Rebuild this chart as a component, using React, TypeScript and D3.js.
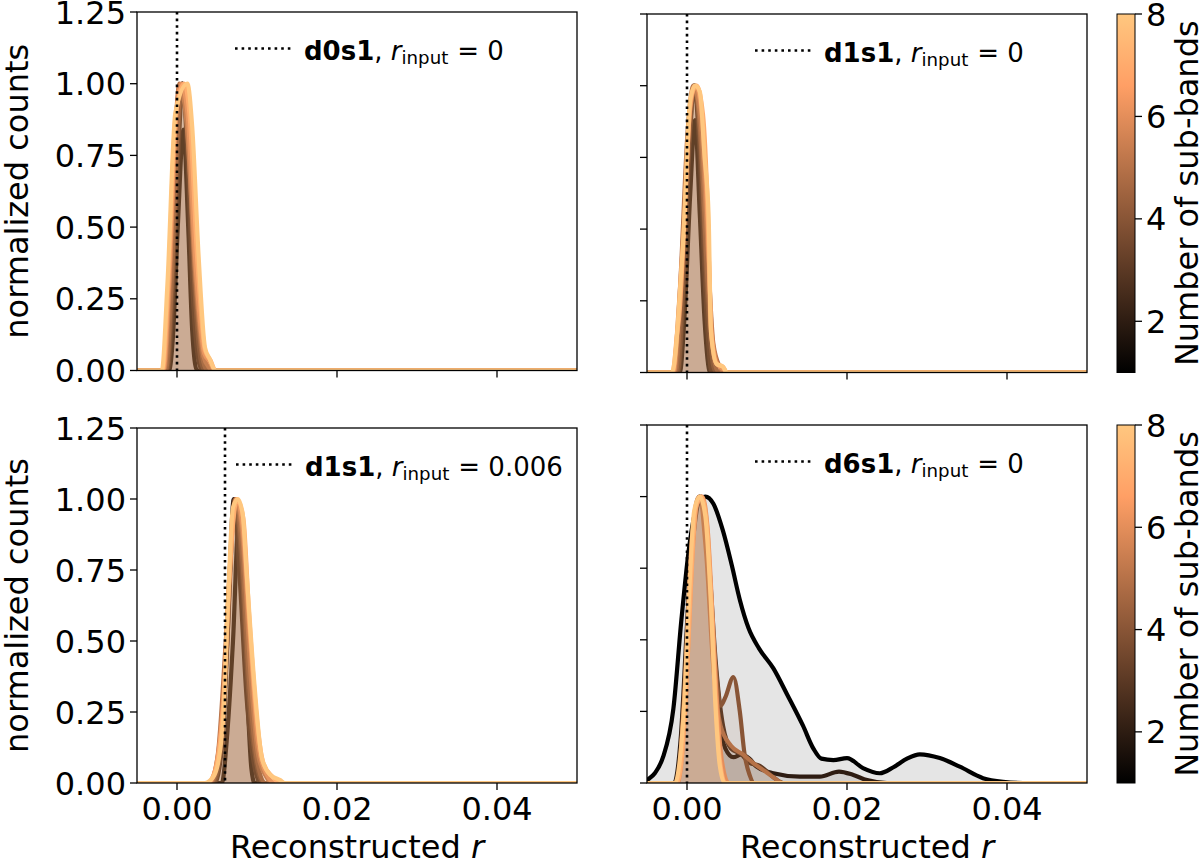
import React from 'react';
import * as d3 from 'd3';

type Pt = [number, number];

// ---------- data ----------
const subBands = [1, 2, 3, 4, 5, 6, 7, 8];
const xTicks = [0, 0.02, 0.04];
const yTicks = [0, 0.25, 0.5, 0.75, 1.0, 1.25];
const cbTicks = [2, 4, 6, 8];
const panelNames = ['d0s1', 'd1s1', 'd1s1', 'd6s1'];
const rInputLabels = ['0', '0', '0.006', '0'];
const rInputValues = [0, 0, 0.006, 0];

// top-left: d0s1, r_input = 0 (one curve per number of sub-bands, 1..8)
const d0s1Curves: Pt[][] = [
  [[-0.005, 0], [-0.001, 0], [-0.0005, 0.12], [0.0001, 0.5], [0.0008, 0.84], [0.0014, 0.5], [0.0019, 0.14], [0.0025, 0], [0.05, 0]],
  [[-0.005, 0], [-0.0012, 0], [-0.0005, 0.28], [0.0002, 0.78], [0.0007, 1.0], [0.0013, 0.75], [0.002, 0.25], [0.0028, 0.02], [0.0032, 0], [0.05, 0]],
  [[-0.005, 0], [-0.0013, 0], [-0.0006, 0.3], [0.0001, 0.8], [0.0007, 1.0], [0.0014, 0.78], [0.0022, 0.28], [0.003, 0.03], [0.0035, 0], [0.05, 0]],
  [[-0.005, 0], [-0.0014, 0], [-0.0007, 0.3], [0.0, 0.8], [0.0006, 1.0], [0.0014, 0.8], [0.0023, 0.3], [0.0032, 0.04], [0.0038, 0], [0.05, 0]],
  [[-0.005, 0], [-0.0016, 0], [-0.0009, 0.3], [-0.0002, 0.84], [0.0003, 1.0], [0.0012, 0.86], [0.0023, 0.33], [0.0033, 0.05], [0.004, 0.01], [0.0045, 0], [0.05, 0]],
  [[-0.005, 0], [-0.0017, 0], [-0.001, 0.3], [-0.0002, 0.85], [0.0005, 1.0], [0.0013, 0.9], [0.0023, 0.38], [0.0034, 0.06], [0.0041, 0.03], [0.0047, 0], [0.05, 0]],
  [[-0.005, 0], [-0.0018, 0], [-0.0011, 0.3], [-0.0002, 0.88], [0.0009, 1.0], [0.0016, 0.88], [0.0025, 0.4], [0.0035, 0.07], [0.0042, 0.035], [0.0048, 0], [0.05, 0]],
  [[-0.005, 0], [-0.0019, 0], [-0.0012, 0.3], [-0.0002, 0.9], [0.0013, 1.0], [0.0019, 0.85], [0.0027, 0.4], [0.0035, 0.08], [0.0041, 0.04], [0.0048, 0], [0.05, 0]],
];

// top-right: d1s1, r_input = 0
const d1s1Curves: Pt[][] = [
  [[-0.005, 0], [-0.0009, 0], [-0.0003, 0.2], [0.0004, 0.62], [0.001, 0.88], [0.0016, 0.55], [0.0022, 0.18], [0.0029, 0], [0.05, 0]],
  [[-0.005, 0], [-0.0011, 0], [-0.0004, 0.3], [0.0003, 0.78], [0.0009, 1.0], [0.0016, 0.75], [0.0024, 0.22], [0.0031, 0], [0.05, 0]],
  [[-0.005, 0], [-0.0012, 0], [-0.0005, 0.3], [0.0003, 0.82], [0.001, 1.0], [0.0017, 0.78], [0.0025, 0.28], [0.0033, 0.02], [0.0037, 0], [0.05, 0]],
  [[-0.005, 0], [-0.0014, 0], [-0.0007, 0.3], [0.0002, 0.85], [0.0009, 1.0], [0.0017, 0.82], [0.0025, 0.35], [0.0034, 0.04], [0.004, 0], [0.05, 0]],
  [[-0.005, 0], [-0.0016, 0], [-0.0009, 0.28], [0.0001, 0.85], [0.0008, 1.0], [0.0017, 0.88], [0.0026, 0.42], [0.0033, 0.1], [0.0041, 0.02], [0.0046, 0], [0.05, 0]],
  [[-0.005, 0], [-0.0017, 0], [-0.0011, 0.2], [-0.0004, 0.5], [0.0004, 0.92], [0.0011, 1.0], [0.0019, 0.88], [0.0026, 0.5], [0.0031, 0.14], [0.0038, 0.03], [0.0046, 0.01], [0.005, 0], [0.05, 0]],
  [[-0.005, 0], [-0.0018, 0], [-0.0013, 0.12], [-0.0009, 0.22], [-0.0004, 0.48], [0.0005, 0.96], [0.0012, 1.0], [0.002, 0.9], [0.0026, 0.56], [0.003, 0.15], [0.0037, 0.03], [0.0045, 0.02], [0.005, 0], [0.05, 0]],
  [[-0.005, 0], [-0.0019, 0], [-0.0014, 0.08], [-0.0011, 0.19], [-0.0005, 0.45], [0.0004, 0.95], [0.001, 1.0], [0.0016, 0.98], [0.0022, 0.75], [0.0027, 0.55], [0.003, 0.14], [0.0037, 0.03], [0.0045, 0.02], [0.005, 0], [0.05, 0]],
];

// bottom-left: d1s1, r_input = 0.006
const d1s1r006Curves: Pt[][] = [
  [[-0.005, 0], [0.0056, 0], [0.0063, 0.18], [0.007, 0.5], [0.0077, 0.91], [0.0083, 0.62], [0.0088, 0.3], [0.0093, 0.05], [0.0097, 0], [0.05, 0]],
  [[-0.005, 0], [0.0047, 0], [0.0056, 0.12], [0.0063, 0.5], [0.0071, 1.0], [0.0078, 0.74], [0.0087, 0.3], [0.0096, 0.07], [0.0104, 0], [0.05, 0]],
  [[-0.005, 0], [0.0045, 0], [0.0055, 0.12], [0.0063, 0.5], [0.0072, 1.0], [0.008, 0.8], [0.0089, 0.33], [0.0099, 0.07], [0.0108, 0], [0.05, 0]],
  [[-0.005, 0], [0.0043, 0], [0.0053, 0.12], [0.0062, 0.5], [0.0073, 1.0], [0.0081, 0.82], [0.009, 0.36], [0.01, 0.08], [0.011, 0], [0.05, 0]],
  [[-0.005, 0], [0.0041, 0], [0.0051, 0.1], [0.0061, 0.5], [0.0073, 1.0], [0.0082, 0.86], [0.0092, 0.38], [0.0102, 0.09], [0.0112, 0.02], [0.0118, 0], [0.05, 0]],
  [[-0.005, 0], [0.0039, 0], [0.0048, 0.05], [0.0059, 0.35], [0.0066, 0.75], [0.0074, 1.0], [0.0082, 0.9], [0.0091, 0.52], [0.0101, 0.15], [0.0112, 0.03], [0.0122, 0], [0.05, 0]],
  [[-0.005, 0], [0.0037, 0], [0.0046, 0.03], [0.0058, 0.28], [0.0065, 0.7], [0.0075, 1.0], [0.0083, 0.93], [0.009, 0.6], [0.0099, 0.25], [0.0108, 0.07], [0.012, 0.02], [0.0128, 0], [0.05, 0]],
  [[-0.005, 0], [0.0035, 0], [0.0045, 0.02], [0.0052, 0.08], [0.0058, 0.24], [0.0064, 0.66], [0.007, 0.97], [0.0076, 1.0], [0.0082, 0.95], [0.0087, 0.74], [0.0097, 0.34], [0.0106, 0.09], [0.0116, 0.03], [0.0129, 0.01], [0.0135, 0], [0.05, 0]],
];

// bottom-right: d6s1, r_input = 0
const d6s1Curves: Pt[][] = [
  [[-0.0055, 0], [-0.005, 0.01], [-0.004, 0.035], [-0.003, 0.09], [-0.0017, 0.26], [-0.0007, 0.57], [0.0003, 0.83], [0.0013, 0.97], [0.0023, 1.0], [0.0033, 0.975], [0.0045, 0.88], [0.0056, 0.76], [0.0066, 0.64], [0.0077, 0.54], [0.009, 0.47], [0.0108, 0.4], [0.0125, 0.31], [0.0145, 0.2], [0.0158, 0.12], [0.0168, 0.085], [0.0183, 0.08], [0.02, 0.087], [0.022, 0.052], [0.0241, 0.034], [0.0258, 0.055], [0.0275, 0.085], [0.0291, 0.1], [0.0316, 0.087], [0.0341, 0.057], [0.037, 0.017], [0.0395, 0.004], [0.042, 0], [0.05, 0]],
  [[-0.005, 0], [-0.0016, 0], [-0.0008, 0.15], [0.0, 0.55], [0.0008, 0.9], [0.0016, 1.0], [0.0024, 0.85], [0.0032, 0.5], [0.004, 0.22], [0.0048, 0.12], [0.0058, 0.09], [0.0068, 0.1], [0.0078, 0.085], [0.0087, 0.057], [0.0108, 0.034], [0.0141, 0.022], [0.0166, 0.022], [0.019, 0.04], [0.0208, 0.028], [0.0225, 0.01], [0.025, 0], [0.05, 0]],
  [[-0.005, 0], [-0.0012, 0], [-0.0004, 0.25], [0.0006, 0.8], [0.0018, 1.0], [0.0028, 0.75], [0.0036, 0.42], [0.0045, 0.2], [0.0055, 0.12], [0.0068, 0.1], [0.0078, 0.07], [0.0091, 0.06], [0.0108, 0.02], [0.012, 0], [0.05, 0]],
  [[-0.005, 0], [-0.0012, 0], [-0.0004, 0.25], [0.0006, 0.82], [0.0016, 1.0], [0.0026, 0.78], [0.0036, 0.4], [0.0042, 0.27], [0.0048, 0.3], [0.0058, 0.37], [0.0066, 0.25], [0.0072, 0.1], [0.0078, 0.03], [0.0084, 0], [0.05, 0]],
  [[-0.005, 0], [-0.0012, 0], [-0.0004, 0.28], [0.0006, 0.85], [0.0015, 1.0], [0.0024, 0.8], [0.0033, 0.4], [0.0042, 0.2], [0.0055, 0.13], [0.007, 0.1], [0.0085, 0.065], [0.0098, 0.04], [0.0108, 0.02], [0.012, 0], [0.05, 0]],
  [[-0.005, 0], [-0.0012, 0], [-0.0006, 0.1], [0.0, 0.38], [0.0006, 0.75], [0.0012, 0.97], [0.0019, 1.0], [0.0026, 0.88], [0.0032, 0.58], [0.0038, 0.26], [0.0044, 0.07], [0.0052, 0], [0.05, 0]],
  [[-0.005, 0], [-0.0013, 0], [-0.0007, 0.08], [-0.0001, 0.32], [0.0005, 0.7], [0.0011, 0.96], [0.0018, 1.0], [0.0025, 0.9], [0.0031, 0.6], [0.0036, 0.28], [0.0042, 0.06], [0.0048, 0], [0.05, 0]],
  [[-0.005, 0], [-0.0015, 0], [-0.0009, 0.08], [-0.0003, 0.3], [0.0003, 0.68], [0.0009, 0.95], [0.0016, 1.0], [0.0023, 0.93], [0.003, 0.62], [0.0035, 0.3], [0.0041, 0.06], [0.0047, 0], [0.05, 0]],
];

const panelCurves = [d0s1Curves, d1s1Curves, d1s1r006Curves, d6s1Curves];

// ---------- layout ----------
const layouts = [
  { x0: 137, x1: 577, y0: 12, y1: 370.5, xLabels: false, yLabels: true, legendDx: 98 },
  { x0: 647, x1: 1087, y0: 14, y1: 372.5, xLabels: false, yLabels: false, legendDx: 108 },
  { x0: 137, x1: 577, y0: 428, y1: 783, xLabels: true, yLabels: true, legendDx: 99 },
  { x0: 647, x1: 1087, y0: 425, y1: 783, xLabels: true, yLabels: false, legendDx: 108 },
];
const colorbars = [
  { x: 1117, w: 18, y0: 14, y1: 372.5 },
  { x: 1117, w: 18, y0: 425, y1: 783 },
];

const FONT = 'DejaVu Sans';
const FS = 32;
const LFS = 26;

function copper(t: number): string {
  const r = Math.min(1, 1.25 * t);
  const g = 0.7812 * t;
  const b = 0.4975 * t;
  return d3.rgb(r * 255, g * 255, b * 255).formatHex();
}
const cNorm = d3.scaleLinear().domain([1, 8]).range([0, 1]);

function Panel({ idx }: { idx: number }) {
  const L = layouts[idx];
  const x = d3.scaleLinear().domain([-0.005, 0.05]).range([L.x0, L.x1]);
  const y = d3.scaleLinear().domain([0, 1.25]).range([L.y1, L.y0]);
  const line = d3.line<Pt>().x(d => x(d[0])).y(d => y(d[1])).curve(d3.curveMonotoneX);
  const area = d3.area<Pt>().x(d => x(d[0])).y0(y(0)).y1(d => y(d[1])).curve(d3.curveMonotoneX);
  const clipId = `clip${idx}`;
  const curves = panelCurves[idx];
  const lx = L.x0 + L.legendDx;
  const ly = L.y0 + 47.5;
  return (
    <g>
      <defs>
        <clipPath id={clipId}>
          <rect x={L.x0} y={L.y0} width={L.x1 - L.x0} height={L.y1 - L.y0} />
        </clipPath>
      </defs>
      <g clipPath={`url(#${clipId})`}>
        {curves.map((c, i) => {
          const col = copper(cNorm(subBands[i]));
          return (
            <g key={i}>
              <path d={area(c) || ''} fill={col} fillOpacity={0.1} stroke="none" />
              <path d={line(c) || ''} fill="none" stroke={col} strokeWidth={4.2} strokeLinejoin="round" />
            </g>
          );
        })}
        <line x1={x(rInputValues[idx])} x2={x(rInputValues[idx])} y1={L.y0} y2={L.y1}
          stroke="#000" strokeWidth={2.6} strokeDasharray="2.6 4" />
      </g>
      <rect x={L.x0} y={L.y0} width={L.x1 - L.x0} height={L.y1 - L.y0} fill="none" stroke="#000" strokeWidth={1.3} />
      {xTicks.map(t => (
        <g key={t}>
          <line x1={x(t)} x2={x(t)} y1={L.y1} y2={L.y1 + 7} stroke="#000" strokeWidth={1.3} />
          {L.xLabels && (
            <text x={x(t)} y={L.y1 + 37} textAnchor="middle" fontSize={FS} fontFamily={FONT}>{d3.format('.2f')(t)}</text>
          )}
        </g>
      ))}
      {yTicks.map(t => (
        <g key={t}>
          <line x1={L.x0 - 7} x2={L.x0} y1={y(t)} y2={y(t)} stroke="#000" strokeWidth={1.3} />
          {L.yLabels && (
            <text x={L.x0 - 11} y={y(t)} dy="0.36em" textAnchor="end" fontSize={FS} fontFamily={FONT}>{d3.format('.2f')(t)}</text>
          )}
        </g>
      ))}
      {L.yLabels && (
        <text transform={`translate(28,${(L.y0 + L.y1) / 2}) rotate(-90)`} textAnchor="middle" fontSize={FS} fontFamily={FONT}>normalized counts</text>
      )}
      {L.xLabels && (
        <text x={(L.x0 + L.x1) / 2} y={858} textAnchor="middle" fontSize={FS} fontFamily={FONT}>
          Reconstructed <tspan fontStyle="italic">r</tspan>
        </text>
      )}
      {/* legend */}
      <line x1={lx} x2={lx + 57} y1={ly - 11} y2={ly - 11} stroke="#000" strokeWidth={2.6} strokeDasharray="2.6 4" />
      <text x={lx + 69} y={ly} fontSize={LFS} fontFamily={FONT}>
        <tspan fontWeight="bold">{panelNames[idx]}</tspan>
        <tspan>, </tspan>
        <tspan fontStyle="italic">r</tspan>
        <tspan fontSize={LFS * 0.7} dy={4}>input</tspan>
        <tspan dy={-4} dx={9}>{`= ${rInputLabels[idx]}`}</tspan>
      </text>
    </g>
  );
}

function Colorbar({ idx }: { idx: number }) {
  const C = colorbars[idx];
  const s = d3.scaleLinear().domain([1, 8]).range([C.y1, C.y0]);
  const gid = `cbgrad${idx}`;
  const stops = [0, 0.8, 1];
  return (
    <g>
      <defs>
        <linearGradient id={gid} x1="0" y1="1" x2="0" y2="0">
          {stops.map(t => <stop key={t} offset={t} stopColor={copper(t)} />)}
        </linearGradient>
      </defs>
      <rect x={C.x} y={C.y0} width={C.w} height={C.y1 - C.y0} fill={`url(#${gid})`} stroke="#000" strokeWidth={1} />
      {cbTicks.map(t => (
        <g key={t}>
          <line x1={C.x + C.w} x2={C.x + C.w + 7} y1={s(t)} y2={s(t)} stroke="#000" strokeWidth={1.3} />
          <text x={C.x + C.w + 11} y={s(t)} dy="0.36em" fontSize={FS} fontFamily={FONT}>{t}</text>
        </g>
      ))}
      <text transform={`translate(1198,${(C.y0 + C.y1) / 2}) rotate(-90)`} textAnchor="middle" fontSize={FS} fontFamily={FONT}>Number of sub-bands</text>
    </g>
  );
}

export default function App() {
  return (
    <svg width={1200} height={862} viewBox="0 0 1200 862"
      style={{ position: 'absolute', left: 0, top: 0, background: '#fff' }}>
      <rect x={0} y={0} width={1200} height={862} fill="#fff" />
      {[0, 1, 2, 3].map(i => <Panel key={i} idx={i} />)}
      {[0, 1].map(i => <Colorbar key={i} idx={i} />)}
    </svg>
  );
}
